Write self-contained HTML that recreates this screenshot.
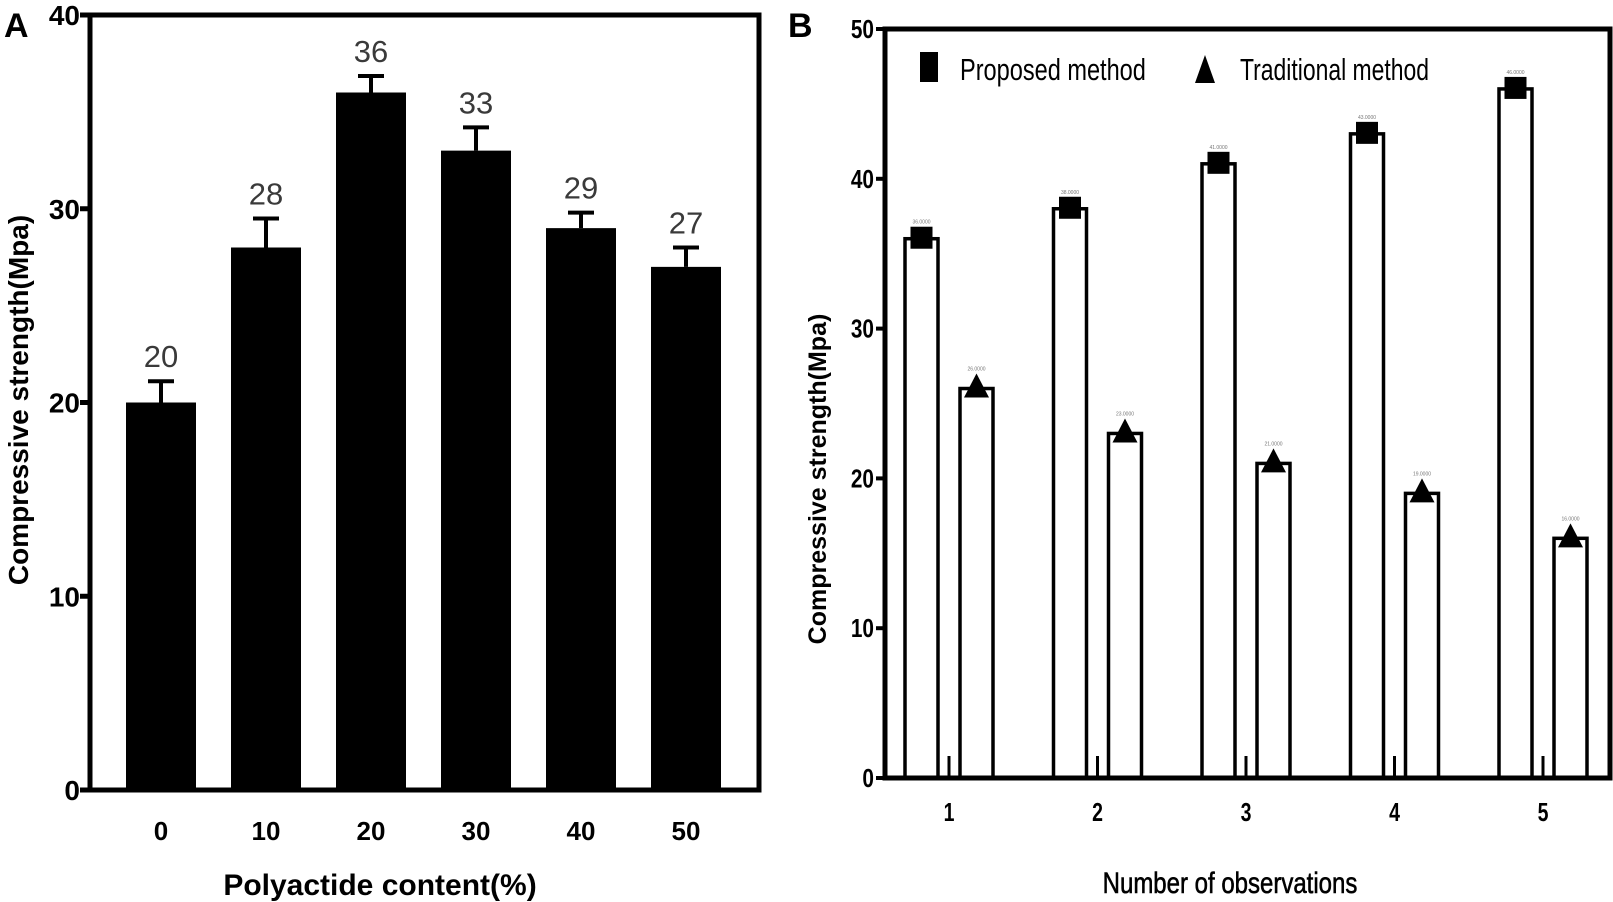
<!DOCTYPE html>
<html><head><meta charset="utf-8"><style>
body{margin:0;background:#fff}
svg{display:block;font-family:"Liberation Sans",sans-serif}
</style></head><body>
<svg id="chart" width="1613" height="902" viewBox="0 0 1613 902">
<g id="pa"></g>
<g id="pb"></g>
</svg>
<script>
// Panel A data
const catsA = ["0","10","20","30","40","50"];
const valsA = [20,28,36,33,29,27];
const errA = [1.1,1.5,0.85,1.2,0.8,1.0];
const ticksA = [0,10,20,30,40];
// Panel B data
const catsB = ["1","2","3","4","5"];
const proposed = [36,38,41,43,46];
const traditional = [26,23,21,19,16];
const ticksB = [0,10,20,30,40,50];

const NS="http://www.w3.org/2000/svg";
function mk(parent,tag,attrs,text){const e=document.createElementNS(NS,tag);for(const k in attrs)e.setAttribute(k,attrs[k]);if(text!==undefined)e.textContent=text;parent.appendChild(e);return e;}

// ---- Panel A ----
const pa=document.getElementById('pa');
const yA=v=>790-(v/40)*775;
const xA=i=>161+i*105;
let t=mk(pa,'text',{x:4,y:37,'font-size':34,'font-weight':'bold'},'A');

valsA.forEach((v,i)=>{
  let r=mk(pa,'rect',{x:xA(i)-35,y:yA(v),width:70,height:yA(0)-yA(v),fill:'#000'});
  
  let top=yA(v+errA[i]);
  let e=mk(pa,'path',{d:`M${xA(i)} ${yA(v)} V${top} M${xA(i)-13} ${top} H${xA(i)+13}`,stroke:'#000','stroke-width':4,fill:'none'});
  
  let l=mk(pa,'text',{x:xA(i),y:top-14,'font-size':31,fill:'#3a3a3a','text-anchor':'middle'},String(v));
  
  let c=mk(pa,'text',{x:xA(i),y:840,'font-size':26,'font-weight':'bold','text-anchor':'middle'},catsA[i]);
  
});
let fr=mk(pa,'rect',{x:90,y:15,width:669,height:775,fill:'none',stroke:'#000','stroke-width':5});

ticksA.forEach(v=>{
  let k=mk(pa,'line',{x1:80,x2:90,y1:yA(v),y2:yA(v),stroke:'#000','stroke-width':5});
  
  let l=mk(pa,'text',{x:80,y:yA(v)+10,'font-size':28,'font-weight':'bold','text-anchor':'end'},String(v));
  
});
t=mk(pa,'text',{x:380,y:895,'font-size':30,'font-weight':'bold','text-anchor':'middle'},'Polyactide content(%)');

t=mk(pa,'text',{x:0,y:0,'font-size':28,'font-weight':'bold','text-anchor':'middle',transform:'translate(28,400) rotate(-90)'},'Compressive strength(Mpa)');


// ---- Panel B ----
const pb=document.getElementById('pb');
const yB=v=>778-(v/50)*749;
const xB=i=>949+i*148.5;
t=mk(pb,'text',{x:788,y:37,'font-size':34,'font-weight':'bold'},'B');

catsB.forEach((c,i)=>{
  let x=xB(i);
  let r1=mk(pb,'rect',{x:x-44,y:yB(proposed[i]),width:33,height:yB(0)-yB(proposed[i]),fill:'#fff',stroke:'#000','stroke-width':3.5});
  
  let r2=mk(pb,'rect',{x:x+11,y:yB(traditional[i]),width:33,height:yB(0)-yB(traditional[i]),fill:'#fff',stroke:'#000','stroke-width':3.5});
  
  let m1=mk(pb,'rect',{x:x-27.5-11,y:yB(proposed[i])-12,width:22,height:22,fill:'#000'});
  
  let ty=yB(traditional[i]);
  let m2=mk(pb,'path',{d:`M${x+27.5} ${ty-15} L${x+40} ${ty+9} L${x+15} ${ty+9} Z`,fill:'#000'});
  
  let s1=mk(pb,'text',{x:x-27.5,y:yB(proposed[i])-15,'font-size':5,fill:'#777','text-anchor':'middle'},proposed[i].toFixed(4));
  
  let s2=mk(pb,'text',{x:x+27.5,y:ty-18,'font-size':5,fill:'#777','text-anchor':'middle'},traditional[i].toFixed(4));
  
  let k=mk(pb,'line',{x1:x,x2:x,y1:778,y2:756,stroke:'#000','stroke-width':3});
  
  let l=mk(pb,'text',{x:x,y:821,'font-size':26,'font-weight':'bold','text-anchor':'middle',transform:`translate(${x} 0) scale(0.75 1) translate(${-x} 0)`},c);
  
});
fr=mk(pb,'rect',{x:885,y:29,width:725,height:749,fill:'none',stroke:'#000','stroke-width':5});

ticksB.forEach(v=>{
  let k=mk(pb,'line',{x1:876,x2:885,y1:yB(v),y2:yB(v),stroke:'#000','stroke-width':4});
  
  let l=mk(pb,'text',{x:0,y:yB(v)+9,'font-size':26,'font-weight':'bold','text-anchor':'end',transform:`translate(874 0) scale(0.8 1)`},String(v));
  
});
let lg=mk(pb,'rect',{x:920,y:52,width:18,height:30,fill:'#000'});

t=mk(pb,'text',{x:0,y:80,'font-size':31,transform:'translate(960 0) scale(0.76 1)'},'Proposed method');

lg=mk(pb,'path',{d:'M1205 55 L1215 83 L1195 83 Z',fill:'#000'});

t=mk(pb,'text',{x:0,y:80,'font-size':31,transform:'translate(1240 0) scale(0.74 1)'},'Traditional method');

t=mk(pb,'text',{x:0,y:0,'font-size':30,'text-anchor':'middle',stroke:'#000','stroke-width':0.6,transform:'translate(1230 893) scale(0.8 1)'},'Number of observations');

t=mk(pb,'text',{x:0,y:0,'font-size':25,'font-weight':'bold','text-anchor':'middle',transform:'translate(826,479) rotate(-90)'},'Compressive strength(Mpa)');

</script>
</body></html>
